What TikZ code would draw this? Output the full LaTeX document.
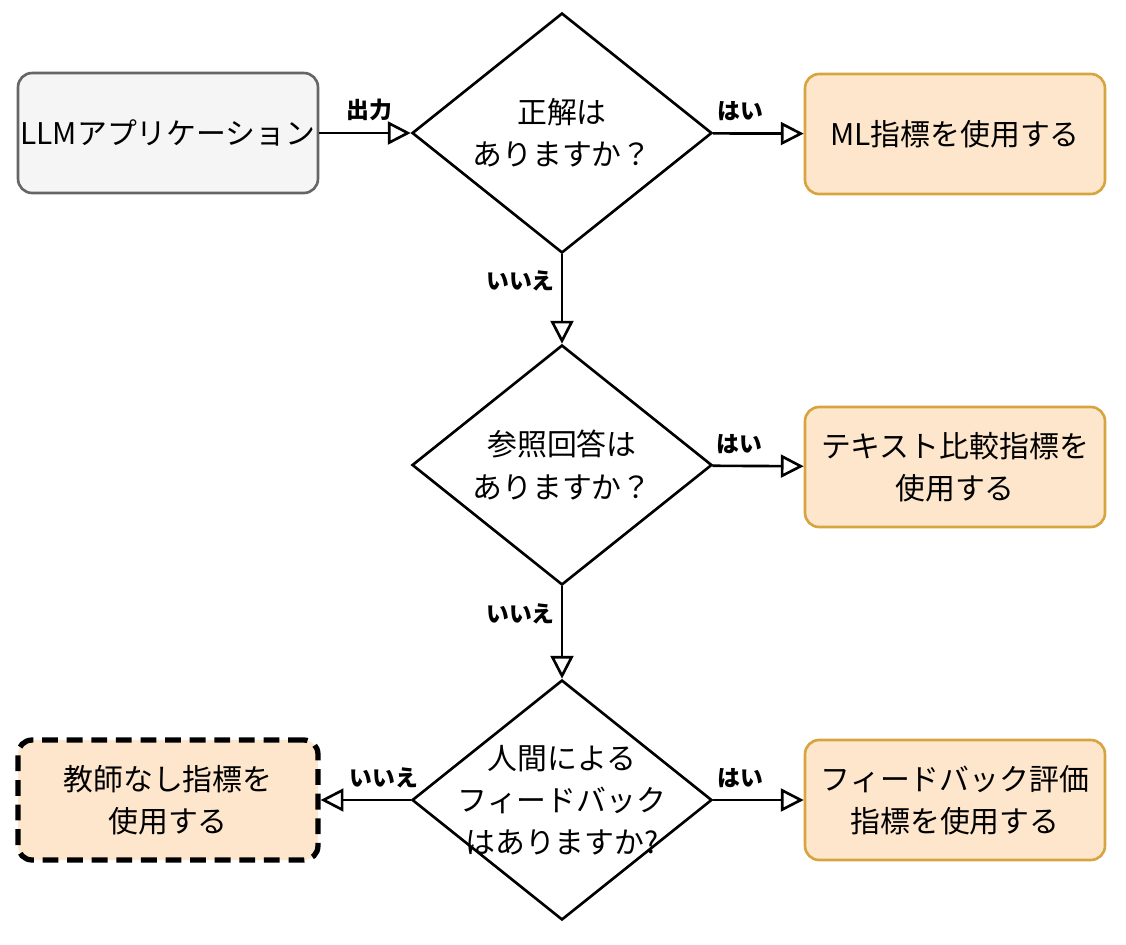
\documentclass[tikz,border=0pt]{standalone}
\usepackage{fontspec}
\setmainfont{Noto Sans CJK JP}
\usetikzlibrary{arrows.meta,shapes.geometric}
\definecolor{peach}{HTML}{FDE6CC}
\definecolor{gold}{HTML}{D6A540}
\definecolor{lightgray}{HTML}{F5F5F5}
\begin{document}
\begin{tikzpicture}[x=0.02cm,y=-0.02cm]
		\tikzset{box/.style={rectangle, rounded corners=8pt, minimum width=6cm, minimum height=2.4cm, inner sep=1pt, align=center, font=\fontsize{17}{24}\selectfont, line width=1.5pt}}
		\tikzset{result/.style={box, draw=gold, fill=peach}}
		\tikzset{decision/.style={diamond, draw, line width=1.5pt, minimum width=6cm, minimum height=4.8cm, aspect=1.25, inner sep=0pt, align=center, font=\fontsize{17}{24}\selectfont}}
		\tikzset{edge/.style={-{Triangle[open,length=13pt,width=13pt]}, line width=1.5pt}}
		\tikzset{lbl/.style={font=\fontsize{13}{15}\selectfont\bfseries}}
		\useasboundingbox (0,0) rectangle (1126,944);
		%vertices
		\node[box, draw=black!60, fill=lightgray] (llm) at (168,133) {LLMアプリケーション};
		\node[decision] (d1) at (562,133) {正解は\\ありますか？};
		\node[result] (ml) at (955,134) {ML指標を使用する};
		\node[decision] (d2) at (562,465) {参照回答は\\ありますか？};
		\node[result] (txt) at (955,467) {テキスト比較指標を\\使用する};
		\node[decision, inner sep=-14pt] (d3) at (562,800) {人間による\\フィードバック\\はありますか?};
		\node[result] (fb) at (955,800) {フィードバック評価\\指標を使用する};
		\node[box, draw=black, fill=peach, dash pattern=on 9pt off 5pt, line width=3pt] (uns) at (168,800) {教師なし指標を\\使用する};
		%edges
		\draw[edge] (llm) -- node[lbl, above=3pt, pos=0.55] {出力} (d1);
		\draw[edge] (d1) -- node[lbl, above=3pt, pos=0.3] {はい} (ml);
		\draw[edge] (d1) -- node[lbl, left, pos=0.3] {いいえ} (d2);
		\draw[edge] (d2) -- node[lbl, above=3pt, pos=0.3] {はい} (txt);
		\draw[edge] (d2) -- node[lbl, left, pos=0.3] {いいえ} (d3);
		\draw[edge] (d3) -- node[lbl, above=3pt, pos=0.3] {はい} (fb);
		\draw[edge] (d3) -- node[lbl, above=3pt, pos=0.3] {いいえ} (uns);
		\end{tikzpicture}
\end{document}
